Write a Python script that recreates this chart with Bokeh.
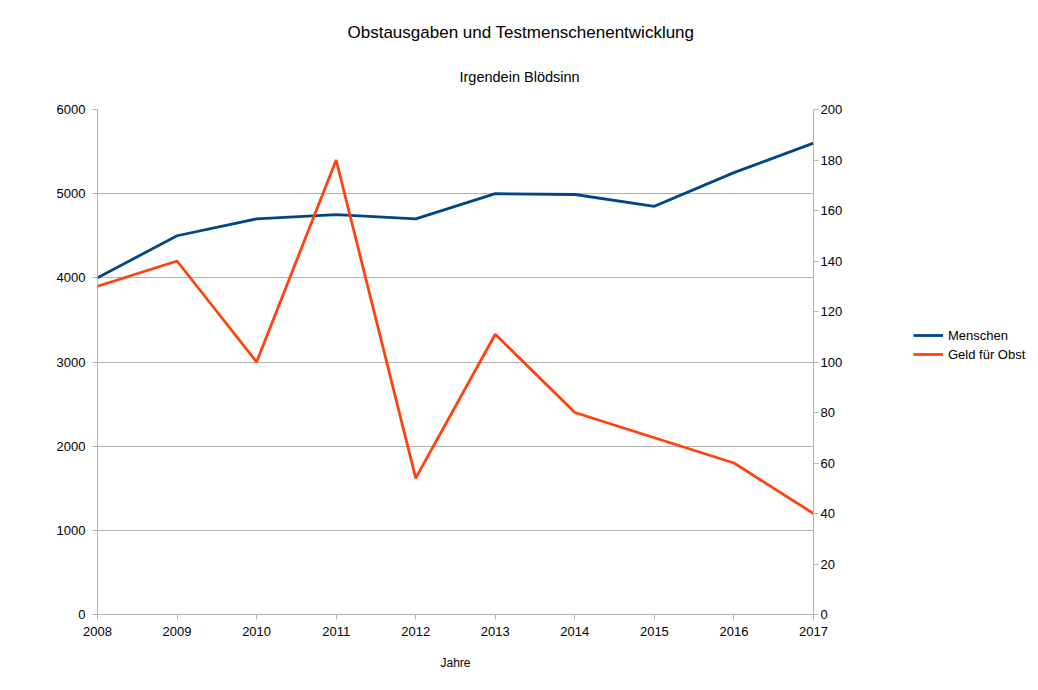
from bokeh.plotting import figure
from bokeh.layouts import row
from bokeh.models import (Range1d, LinearAxis, SingleIntervalTicker, Legend, LegendItem, Title)
from bokeh.embed import file_html
from bokeh.resources import INLINE

years = [2008, 2009, 2010, 2011, 2012, 2013, 2014, 2015, 2016, 2017]
menschen = [4000, 4500, 4700, 4750, 4700, 5000, 4990, 4850, 5250, 5600]
geld_fuer_obst = [130, 140, 100, 180, 54, 111, 80, 70, 60, 40]
series_names = ["Menschen", "Geld für Obst"]
series_colors = ["#004586", "#ff420e"]

FONT = "Liberation Sans"
GRAY = "#b3b3b3"

p = figure(width=845, height=682, output_backend="svg", toolbar_location=None,
           x_range=Range1d(2008, 2017), y_range=Range1d(0, 6000),
           min_border_left=97, min_border_right=30, min_border_top=109, min_border_bottom=68)
p.extra_y_ranges = {"right": Range1d(0, 200)}
p.outline_line_color = None
p.background_fill_color = "white"
p.border_fill_color = "white"

sub = Title(text="Irgendein Blödsinn", align="left", offset=362, text_font=FONT,
            text_font_size="14.5px", text_font_style="normal", text_color="black", standoff=50)
p.add_layout(sub, "above")
ttl = Title(text="Obstausgaben und Testmenschenentwicklung", align="left", offset=250, text_font=FONT,
            text_font_size="17px", text_font_style="normal", text_color="black", standoff=0)
p.add_layout(ttl, "above")

p.line(years, menschen, line_color=series_colors[0], line_width=2.8)
p.line(years, geld_fuer_obst, line_color=series_colors[1], line_width=2.8, y_range_name="right")

# grid
p.xgrid.visible = False
p.ygrid.grid_line_color = GRAY
p.ygrid.grid_line_width = 1
p.ygrid.ticker = SingleIntervalTicker(interval=1000)

# axes
def style(ax):
    ax.axis_line_color = GRAY
    ax.major_tick_line_color = GRAY
    ax.minor_tick_line_color = None
    ax.major_tick_in = 0
    ax.major_tick_out = 5
    ax.major_label_text_font = FONT
    ax.major_label_text_font_size = "13px"
    ax.major_label_text_color = "black"

p.xaxis.ticker = SingleIntervalTicker(interval=1)
p.xaxis.axis_label = "Jahre"
p.xaxis.axis_label_text_font = FONT
p.xaxis.axis_label_text_font_size = "12px"
p.xaxis.axis_label_text_font_style = "normal"
p.xaxis.axis_label_text_color = "black"
p.xaxis.axis_label_standoff = 17
p.xaxis.major_label_standoff = 7
style(p.xaxis[0])

p.yaxis.ticker = SingleIntervalTicker(interval=1000)
style(p.yaxis[0])
p.yaxis.major_label_standoff = 7

ra = LinearAxis(y_range_name="right", ticker=SingleIntervalTicker(interval=20))
style(ra)
ra.major_label_standoff = 2
p.add_layout(ra, "right")

# legend panel (separate figure to the right of the chart); its lines lie
# outside its tiny ranges, so only the legend swatches show
lp = figure(width=185, height=682, output_backend="svg", toolbar_location=None,
            x_range=Range1d(0, 1), y_range=Range1d(0, 1),
            min_border_left=0, min_border_right=0, min_border_top=0, min_border_bottom=0)
lp.axis.visible = False
lp.grid.visible = False
lp.outline_line_color = None
lp.background_fill_color = "white"
lp.border_fill_color = "white"
items = []
for name, col, vals in zip(series_names, series_colors, [menschen, geld_fuer_obst]):
    rr = lp.line(years, vals, line_color=col, line_width=2.8)
    items.append(LegendItem(label=name, renderers=[rr]))

legend = Legend(items=items, location=(68, 252), orientation="vertical")
legend.label_text_font = FONT
legend.label_text_font_size = "13px"
legend.label_text_color = "black"
legend.glyph_width = 30
legend.glyph_height = 16
legend.spacing = 3
legend.label_standoff = 5
legend.padding = 0
legend.margin = 0
legend.border_line_color = None
legend.background_fill_alpha = 0
lp.add_layout(legend)

layout = row(p, lp)
open("out.html", "w").write(file_html(layout, INLINE))
